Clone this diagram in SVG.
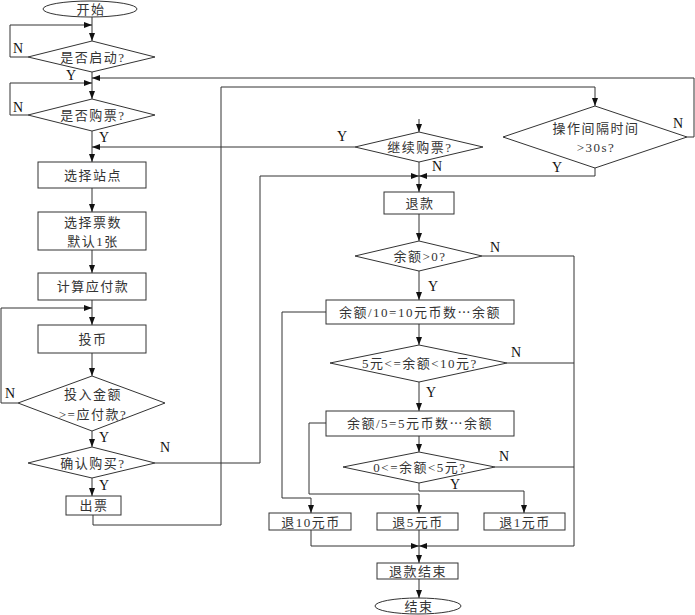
<svg xmlns="http://www.w3.org/2000/svg" width="695" height="615" viewBox="0 0 695 615">
<style>
.s{fill:#fff;stroke:#333;stroke-width:1}
.c{fill:none;stroke:#333;stroke-width:1}
.t{font-family:"Liberation Serif","Noto Sans CJK SC",serif;font-size:13px;fill:#333;text-anchor:middle;letter-spacing:1.5px}
.cj{font-family:"Noto Sans CJK SC",sans-serif}
.l{font-family:"Liberation Serif",serif;font-size:14px;fill:#111}
</style>
<defs>
<marker id="a" markerWidth="8" markerHeight="6" refX="8" refY="3" orient="auto" markerUnits="userSpaceOnUse">
<path d="M0,0 L8,3 L0,6 z" fill="#111"/>
</marker>
</defs>
<rect width="695" height="615" fill="#fff"/>
<g id="connectors" class="c" marker-end="url(#a)">
<path d="M92,17 V41"/>
<path d="M28,57 H10 V25 H92"/>
<path d="M92,72 V99"/>
<path d="M28,115 H10 V83 H92"/>
<path d="M687,137 H694 V78 H92"/>
<path d="M92,131 V162"/>
<path d="M355,147 H92"/>
<path d="M92,188 V212"/>
<path d="M92,250 V273"/>
<path d="M92,300 V325"/>
<path d="M18,403 H1 V308 H92"/>
<path d="M92,353 V376"/>
<path d="M92,431 V447"/>
<path d="M92,478 V496"/>
<path d="M93,515 V525 H221 V87 H595 V106"/>
<path d="M419,119 V132"/>
<path d="M155,463 H260 V176 H419"/>
<path d="M595,168 V176 H419"/>
<path d="M419,162 V192"/>
<path d="M419,214 V241"/>
<path d="M419,271 V300"/>
<path d="M482,256 H574 V546 H419"/>
<path d="M419,324 V345"/>
<path d="M507,363 H574" marker-end="none"/>
<path d="M419,382 V411"/>
<path d="M419,436 V452"/>
<path d="M495,467 H574" marker-end="none"/>
<path d="M326,312 H282 V498 H311 V513"/>
<path d="M326,423 H309 V494 H419 V513"/>
<path d="M419,483 V491 H524 V513"/>
<path d="M311,530 V546 H419"/>
<path d="M419,530 V563"/>
<path d="M419,579 V598"/>
</g>
<g id="start"><ellipse class="s" cx="90" cy="9" rx="47" ry="8"/><text class="t" x="91" y="14">开始</text></g>
<g id="d1"><polygon class="s" points="92,41 155,57 92,72 28,57"/><text class="t" x="93" y="62">是否启动?</text></g>
<g id="d2"><polygon class="s" points="92,99 155,115 92,131 28,115"/><text class="t" x="93" y="120">是否购票?</text></g>
<g id="b1"><rect class="s" x="38" y="162" width="108" height="26"/><text class="t" x="93" y="180">选择站点</text></g>
<g id="b2"><rect class="s" x="38" y="212" width="108" height="38"/><text class="t" x="93" y="227">选择票数</text><text class="t" x="93" y="246">默认1张</text></g>
<g id="b3"><rect class="s" x="38" y="273" width="108" height="27"/><text class="t" x="93" y="291">计算应付款</text></g>
<g id="b4"><rect class="s" x="38" y="325" width="108" height="28"/><text class="t" x="93" y="344">投币</text></g>
<g id="d3"><polygon class="s" points="92,376 165,403 92,431 18,403"/><text class="t" x="93" y="399">投入金额</text><text class="t" x="93" y="419">&gt;=应付款?</text></g>
<g id="d4"><polygon class="s" points="92,447 155,463 92,478 28,463"/><text class="t" x="93" y="468">确认购买?</text></g>
<g id="b5"><rect class="s" x="66" y="496" width="55" height="19"/><text class="t" x="94" y="510">出票</text></g>
<g id="d5"><polygon class="s" points="419,132 483,147 419,162 355,147"/><text class="t" x="420" y="152">继续购票?</text></g>
<g id="d6"><polygon class="s" points="595,106 687,137 595,168 503,137"/><text class="t" x="596" y="133">操作间隔时间</text><text class="t" x="596" y="152">&gt;30s?</text></g>
<g id="b6"><rect class="s" x="384" y="192" width="70" height="22"/><text class="t" x="420" y="208">退款</text></g>
<g id="d7"><polygon class="s" points="419,241 482,256 419,271 355,256"/><text class="t" x="420" y="261">余额&gt;0?</text></g>
<g id="b7"><rect class="s" x="326" y="300" width="188" height="24"/><text class="t" x="420" y="317">余额/10=10元币数<tspan class="cj">…</tspan>余额</text></g>
<g id="d8"><polygon class="s" points="419,345 507,363 419,382 330,363"/><text class="t" x="420" y="368">5元&lt;=余额&lt;10元?</text></g>
<g id="b8"><rect class="s" x="326" y="411" width="188" height="25"/><text class="t" x="420" y="428">余额/5=5元币数<tspan class="cj">…</tspan>余额</text></g>
<g id="d9"><polygon class="s" points="419,452 495,467 419,483 343,467"/><text class="t" x="420" y="472">0&lt;=余额&lt;5元?</text></g>
<g id="b9"><rect class="s" x="269" y="513" width="82" height="17"/><text class="t" x="311" y="527">退10元币</text></g>
<g id="b10"><rect class="s" x="377" y="513" width="81" height="17"/><text class="t" x="418" y="527">退5元币</text></g>
<g id="b11"><rect class="s" x="484" y="513" width="81" height="17"/><text class="t" x="525" y="527">退1元币</text></g>
<g id="b12"><rect class="s" x="377" y="563" width="81" height="16"/><text class="t" x="418" y="576">退款结束</text></g>
<g id="end"><ellipse class="s" cx="418" cy="606" rx="43" ry="8"/><text class="t" x="419" y="611">结束</text></g>
<g id="labels" class="l">
<text x="13" y="53">N</text>
<text x="66" y="80">Y</text>
<text x="13" y="112">N</text>
<text x="99" y="142">Y</text>
<text x="5" y="398">N</text>
<text x="99" y="442">Y</text>
<text x="160" y="452">N</text>
<text x="99" y="490">Y</text>
<text x="337" y="141">Y</text>
<text x="432" y="171">N</text>
<text x="673" y="128">N</text>
<text x="552" y="172">Y</text>
<text x="490" y="252">N</text>
<text x="428" y="291">Y</text>
<text x="511" y="357">N</text>
<text x="426" y="397">Y</text>
<text x="499" y="461">N</text>
<text x="450" y="489">Y</text>
</g>
</svg>
